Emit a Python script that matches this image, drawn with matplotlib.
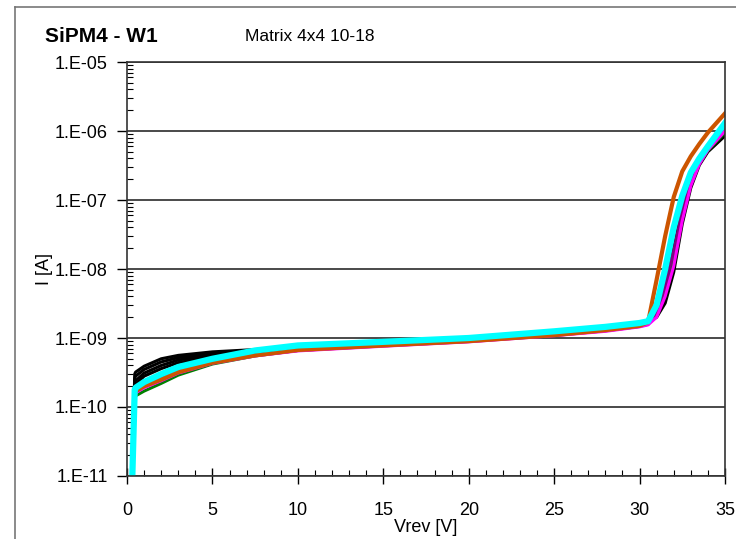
import math
import matplotlib
matplotlib.use("Agg")
import matplotlib.pyplot as plt
from matplotlib.lines import Line2D
from matplotlib.ticker import FixedLocator, LogLocator, MultipleLocator, FuncFormatter, NullFormatter

plt.rcParams['font.family'] = ['Liberation Sans', 'DejaVu Sans']

# bias voltage points [V]
vrev = [0.3, 0.45, 0.5, 1, 2, 3, 5, 7.5, 10, 15, 20, 25, 28, 30, 30.5,
        31, 31.5, 32, 32.5, 33, 33.5, 34, 35]

# currents [A], one list per channel
black_1 = [8e-12, 3.0e-10, 3.2e-10, 3.9e-10, 5.0e-10, 5.6e-10, 6.3e-10, 6.8e-10, 7.4e-10, 8.4e-10,
           9.7e-10, 1.2e-9, 1.4e-9, 1.6e-9, 1.7e-9, 2.0e-9, 3.2e-9, 9e-9, 4.5e-8, 1.5e-7, 3.2e-7, 5e-7, 8.5e-7]
black_2 = [8e-12, 2.6e-10, 2.8e-10, 3.5e-10, 4.5e-10, 5.2e-10, 6.0e-10, 6.6e-10, 7.2e-10, 8.3e-10,
           9.6e-10, 1.19e-9, 1.38e-9, 1.58e-9, 1.68e-9, 2.1e-9, 4e-9, 1.2e-8, 5.5e-8, 1.7e-7, 3.4e-7, 5.2e-7, 9e-7]
black_3 = [8e-12, 2.2e-10, 2.4e-10, 3.1e-10, 4.0e-10, 4.8e-10, 5.7e-10, 6.4e-10, 7.1e-10, 8.2e-10,
           9.5e-10, 1.18e-9, 1.37e-9, 1.57e-9, 1.68e-9, 2.2e-9, 5e-9, 1.6e-8, 6.5e-8, 1.9e-7, 3.6e-7, 5.5e-7, 9.5e-7]
black_4 = [8e-12, 2.0e-10, 2.1e-10, 2.8e-10, 3.6e-10, 4.4e-10, 5.4e-10, 6.2e-10, 7.0e-10, 8.1e-10,
           9.4e-10, 1.17e-9, 1.36e-9, 1.56e-9, 1.68e-9, 2.3e-9, 6e-9, 2e-8, 7.5e-8, 2.1e-7, 3.8e-7, 5.8e-7, 1.0e-6]
green = [8e-12, 1.35e-10, 1.45e-10, 1.7e-10, 2.2e-10, 2.9e-10, 4.2e-10, 5.5e-10, 6.6e-10, 7.8e-10,
         9.0e-10, 1.1e-9, 1.3e-9, 1.5e-9, 1.62e-9, 2.2e-9, 5e-9, 1.5e-8, 6e-8, 1.8e-7, 3.4e-7, 5.2e-7, 9.5e-7]
purple = [8e-12, 1.7e-10, 1.8e-10, 2.1e-10, 2.6e-10, 3.3e-10, 4.5e-10, 5.6e-10, 6.6e-10, 7.7e-10,
          8.9e-10, 1.09e-9, 1.27e-9, 1.47e-9, 1.58e-9, 2.3e-9, 5.5e-9, 1.8e-8, 7e-8, 2.0e-7, 3.7e-7, 5.8e-7, 1.05e-6]
magenta = [8e-12, 1.5e-10, 1.6e-10, 1.9e-10, 2.4e-10, 3.1e-10, 4.3e-10, 5.5e-10, 6.5e-10, 7.6e-10,
           8.8e-10, 1.08e-9, 1.25e-9, 1.45e-9, 1.55e-9, 2.0e-9, 4e-9, 1.1e-8, 5e-8, 1.6e-7, 3.3e-7, 5.3e-7, 1.0e-6]
orange = [8e-12, 1.6e-10, 1.7e-10, 2.0e-10, 2.5e-10, 3.2e-10, 4.4e-10, 5.6e-10, 6.7e-10, 7.8e-10,
          9.0e-10, 1.1e-9, 1.3e-9, 1.5e-9, 1.7e-9, 7e-9, 3e-8, 1.1e-7, 2.6e-7, 4.3e-7, 6.5e-7, 9.5e-7, 1.8e-6]
cyan = [8e-12, 1.8e-10, 1.9e-10, 2.3e-10, 3.0e-10, 3.8e-10, 5.0e-10, 6.6e-10, 7.8e-10, 8.8e-10,
        1.0e-9, 1.25e-9, 1.45e-9, 1.65e-9, 1.75e-9, 3e-9, 1e-8, 4e-8, 1.15e-7, 2.5e-7, 4e-7, 6e-7, 1.3e-6]

y_ticks = [1e-11, 1e-10, 1e-9, 1e-8, 1e-7, 1e-6, 1e-5]

fig = plt.figure(figsize=(7.36, 5.39), dpi=100)
ax = fig.add_axes([0.1726, 0.1169, 0.8124, 0.768])

# draw order: black bundle first, cyan on top
for ys in [black_1, black_2, black_3, black_4]:
    ax.plot(vrev, ys, color='black', lw=2.2)
ax.plot(vrev, green, color='#008000', lw=2.2)
ax.plot(vrev, purple, color='#800080', lw=2.2)
ax.plot(vrev, magenta, color='#ff00ff', lw=2.2)
ax.plot(vrev, orange, color='#cc5500', lw=3.0)
ax.plot(vrev, cyan, color='#00ffff', lw=4.5)

ax.set_yscale('log')
ax.set_ylim(1e-11, 1e-5)
ax.set_xlim(0, 35)

ax.yaxis.set_major_locator(FixedLocator(y_ticks))
ax.yaxis.set_minor_locator(LogLocator(base=10, subs=range(2, 10), numticks=20))
ax.yaxis.set_minor_formatter(NullFormatter())
ax.yaxis.set_major_formatter(FuncFormatter(lambda v, p: '1.E%+03d' % round(math.log10(v))))
ax.xaxis.set_major_locator(MultipleLocator(5))
ax.xaxis.set_minor_locator(MultipleLocator(1))

ax.grid(True, which='major', axis='y', color='#4a4a4a', lw=1.4)
ax.set_axisbelow(True)

ax.tick_params(axis='y', which='major', direction='out', length=7, width=1, labelsize=13, pad=7)
ax.tick_params(axis='y', which='minor', direction='in', length=4, width=0.8)
ax.tick_params(axis='x', which='major', direction='inout', length=11, width=1, labelsize=13, pad=13)
ax.tick_params(axis='x', which='minor', direction='in', length=4, width=0.8)

for s in ax.spines.values():
    s.set_color('#333333')
    s.set_linewidth(1.2)

ax.set_xlabel('Vrev [V]', fontsize=13, labelpad=0)
ax.set_ylabel('I [A]', fontsize=13, labelpad=1)

fig.text(45 / 736, 1 - 36 / 539, 'SiPM4 - W1', fontsize=15, fontweight='bold', va='center', ha='left')
fig.text(245 / 736, 1 - 36 / 539, 'Matrix 4x4 10-18', fontsize=12.5, va='center', ha='left')

# outer frame of the chart area
fig.add_artist(Line2D([15 / 736, 15 / 736], [0, 1 - 7 / 539], color='#777777', lw=1.2))
fig.add_artist(Line2D([15 / 736, 1], [1 - 7 / 539, 1 - 7 / 539], color='#777777', lw=1.2))

fig.savefig('out.png', dpi=100)
